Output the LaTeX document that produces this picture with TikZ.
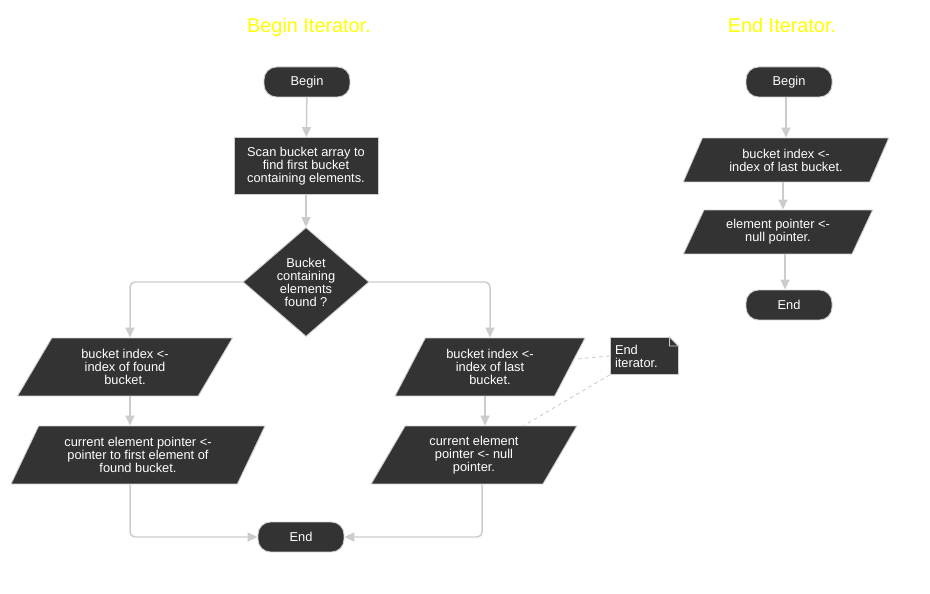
\documentclass[tikz,border=0pt]{standalone}
\usepackage{fontspec}
\setmainfont{Liberation Sans}
\usetikzlibrary{shapes.geometric,arrows.meta}
\definecolor{box}{HTML}{333333}
\definecolor{rim}{HTML}{CCCCCC}
\definecolor{title}{HTML}{FFFF00}

\begin{document}
\begin{tikzpicture}[x=0.02cm, y=-0.02cm,
    every node/.style={font=\fontsize{7.3}{7.4}\selectfont, text=white, align=center},
    base/.style={fill=box, draw=rim, line width=0.5pt, inner sep=0pt},
    terminal/.style={base, rectangle, rounded corners=0.25cm, minimum width=1.72cm, minimum height=0.6cm},
    process/.style={base, rectangle, minimum width=2.88cm, minimum height=1.14cm},
    decision/.style={base, diamond, aspect=1.16, minimum width=2.52cm, minimum height=2.18cm},
    io/.style={base, trapezium, trapezium left angle=60, trapezium right angle=120, trapezium stretches=true, minimum height=1.16cm},
    notebox/.style={base, rectangle, text width=1.16cm, align=left, minimum height=0.74cm, inner sep=0.1cm},
    heading/.style={font=\fontsize{11.3}{13}\selectfont, text=title, anchor=base},
    flow/.style={draw=rim, line width=0.85pt, -{Triangle[length=0.2cm,width=0.18cm]}},
    comment/.style={draw=rim, line width=0.5pt, dash pattern=on 2pt off 2pt}]

    \useasboundingbox (0,0) rectangle (930,594);

    % begin iterator
    \node[heading] at (309, 33) (t1) {Begin Iterator.};
    \node[terminal] at (307, 82) (begin1) {Begin};
    \node[process] at (306, 166) (scan) {Scan bucket array to\\find first bucket\\containing elements.};
    \node[decision] at (306, 282) (dec) {Bucket\\containing\\elements\\found ?};
    \node[io, minimum width=4.3cm] at (125, 367) (lp1) {bucket index <-\\index of found\\bucket.};
    \node[io, minimum width=5.08cm] at (138, 455) (lp2) {current element pointer <-\\pointer to first element of\\found bucket.};
    \node[io, minimum width=3.8cm] at (490, 367) (rp1) {bucket index <-\\index of last\\bucket.};
    \node[io, minimum width=4.12cm] at (474, 455) (rp2) {current element\\pointer <- null\\pointer.};
    \node[terminal] at (301, 537) (end1) {End};
    \node[notebox] at (644, 356) (note) {End\\iterator.};
    \fill[white] ([xshift=-0.18cm]note.north east) -- ([xshift=0.05cm,yshift=0.05cm]note.north east) -- ([yshift=-0.18cm]note.north east) -- cycle;
    \draw[rim, line width=0.5pt] ([xshift=-0.18cm]note.north east) -- ([yshift=-0.18cm]note.north east)
        -- ([xshift=-0.18cm,yshift=-0.18cm]note.north east) -- cycle;

    \draw[flow] (begin1) -- (scan);
    \draw[flow] (scan) -- (dec);
    \draw[flow, rounded corners=0.1cm] (dec.west) -| ([xshift=0.1cm]lp1.north -| lp1.south);
    \draw[flow, rounded corners=0.1cm] (dec.east) -| (rp1.north -| rp1.south);
    \draw[flow] ([xshift=0.1cm]lp1.south) -- ([xshift=0.1cm]lp1.south |- lp2.north);
    \draw[flow] ([xshift=-0.1cm]rp1.south) -- ([xshift=-0.1cm]rp1.south |- rp2.north);
    \draw[flow, rounded corners=0.1cm] ([xshift=0.1cm]lp1.south |- lp2.south) |- (end1.west);
    \draw[flow, rounded corners=0.1cm] ([xshift=0.16cm]rp2.south) |- (end1.east);
    \draw[comment] (note.west) -- (rp1);
    \draw[comment] (note.south west) -- (rp2);

    % end iterator
    \node[heading] at (782, 33) (t2) {End Iterator.};
    \node[terminal] at (789, 82) (begin2) {Begin};
    \node[io, minimum width=4.12cm, minimum height=0.88cm] at (786, 160) (ep1) {bucket index <-\\index of last bucket.};
    \node[io, minimum width=3.8cm, minimum height=0.88cm] at (778, 232) (ep2) {element pointer <-\\null pointer.};
    \node[terminal] at (789, 305) (end2) {End};

    \draw[flow] ([xshift=-0.06cm]begin2.south) -- ([xshift=-0.06cm]begin2.south |- ep1.north);
    \draw[flow] ([xshift=-0.06cm]ep1.south) -- ([xshift=-0.06cm]ep1.south |- ep2.north);
    \draw[flow] ([xshift=-0.08cm]end2.north |- ep2.south) -- ([xshift=-0.08cm]end2.north);
\end{tikzpicture}
\end{document}
